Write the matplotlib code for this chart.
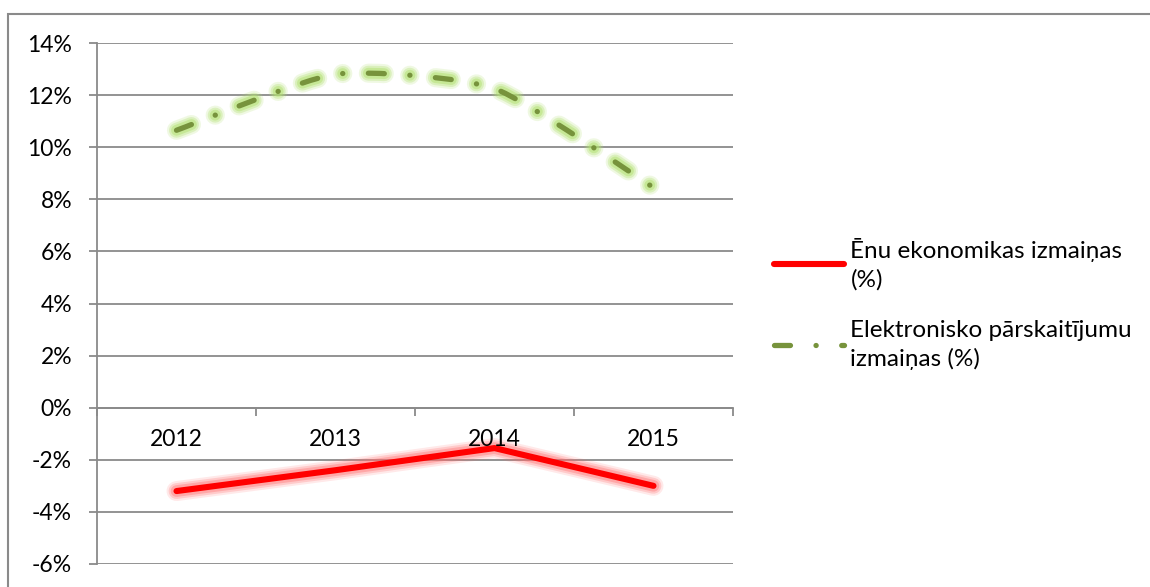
import matplotlib.pyplot as plt
import matplotlib.patheffects as pe
from matplotlib.lines import Line2D
from matplotlib.patches import PathPatch, Rectangle
from matplotlib.path import Path
from matplotlib.ticker import FixedLocator, PercentFormatter
import numpy as np

plt.rcParams['font.family'] = ['Lato', 'DejaVu Sans']
plt.rcParams['lines.scale_dashes'] = False
plt.rcParams['axes.unicode_minus'] = False

years = ['2012', '2013', '2014', '2015']
shadow_change = [-3.2, -2.4, -1.55, -3.0]
epay_change = [10.65, 12.8, 12.25, 8.45]
shadow_label = 'Ēnu ekonomikas izmaiņas\n(%)'
epay_label = 'Elektronisko pārskaitījumu\nizmaiņas (%)'

red = '#ff0000'
green = '#77933c'
grid_col = '#8a8a8a'
dash_style = (0, (11.5, 18.4, 0.1, 18.4))


def smooth_path(xs, ys, k=0.1):
    """Excel-like smoothed line as a cubic Bezier path through the points."""
    pts = np.column_stack([xs, ys]).astype(float)
    ext = np.vstack([pts[0], pts, pts[-1]])
    verts = [pts[0]]
    codes = [Path.MOVETO]
    for i in range(len(pts) - 1):
        p0, p1, p2, p3 = ext[i], ext[i + 1], ext[i + 2], ext[i + 3]
        verts += [p1 + (p2 - p0) * k, p2 - (p3 - p1) * k, p2]
        codes += [Path.CURVE4] * 3
    return Path(verts, codes)


def glow(color, base, strength=1.0):
    return [pe.Stroke(linewidth=base + 10, foreground=color, alpha=0.18 * strength),
            pe.Stroke(linewidth=base + 7, foreground=color, alpha=0.3 * strength),
            pe.Stroke(linewidth=base + 4, foreground=color, alpha=0.45 * strength),
            pe.Normal()]


fig = plt.figure(figsize=(11.5, 5.87), dpi=100)
W, H = 1150, 587
ax = fig.add_axes([97 / W, (H - 564) / H, 636 / W, (564 - 43) / H])
ax.set_axisbelow(True)

x = np.arange(len(years))

# shadow economy line (straight, with soft glow)
ax.plot(x, shadow_change, color=red, lw=4.4, solid_capstyle='round', zorder=3,
        path_effects=glow('#ff6a6a', 4.4, 0.8))

# electronic payments line (smoothed, dash-dot, with glow)
patch = PathPatch(smooth_path(x, epay_change), fill=False, edgecolor=green,
                  lw=3.8, linestyle=dash_style, capstyle='round', zorder=3,
                  path_effects=glow('#b2e070', 3.8, 1.1))
ax.add_patch(patch)

ax.set_xlim(-0.5, 3.5)
ax.set_ylim(-6, 14)
ax.set_yticks(np.arange(-6, 15, 2))
ax.yaxis.set_major_formatter(PercentFormatter(decimals=0))
ax.grid(axis='y', color=grid_col, lw=1.3)

for side in ['top', 'right']:
    ax.spines[side].set_visible(False)
ax.spines['left'].set_color(grid_col)
ax.spines['left'].set_linewidth(1.3)
ax.spines['bottom'].set_position(('data', 0))
ax.spines['bottom'].set_color(grid_col)
ax.spines['bottom'].set_linewidth(1.3)

ax.xaxis.set_major_locator(FixedLocator([-0.5, 0.5, 1.5, 2.5, 3.5]))
ax.xaxis.set_major_formatter(plt.NullFormatter())
ax.tick_params(axis='x', which='major', length=6, width=1.3, color=grid_col)
ax.tick_params(axis='y', length=6, width=1.3, color=grid_col, pad=12, labelsize=16.5)

# category labels drawn above the lines, like the original
for i, yr in enumerate(years):
    ax.annotate(yr, (i, 0), xytext=(0, -32), textcoords='offset pixels',
                ha='center', va='center', fontsize=16.5, zorder=5)

# legend
handles = [Line2D([], [], color=red, lw=4.4, solid_capstyle='round'),
           Line2D([], [], color=green, lw=3.8, linestyle=dash_style,
                  dash_capstyle='round')]
leg = fig.legend(handles, [shadow_label, epay_label], loc='center left',
                 bbox_to_anchor=(752 / W, 1 - 304 / H), frameon=False,
                 fontsize=17.5, handlelength=2.9, handletextpad=0.25,
                 labelspacing=1.2)
for t in leg.get_texts():
    t.set_linespacing(1.4)

# chart frame
fig.patches.append(Rectangle((8 / W, -0.2), 1.2, 1.2 - 14 / H,
                             transform=fig.transFigure, fill=False,
                             edgecolor=grid_col, lw=1.5))

fig.savefig('out.png', dpi=100)
